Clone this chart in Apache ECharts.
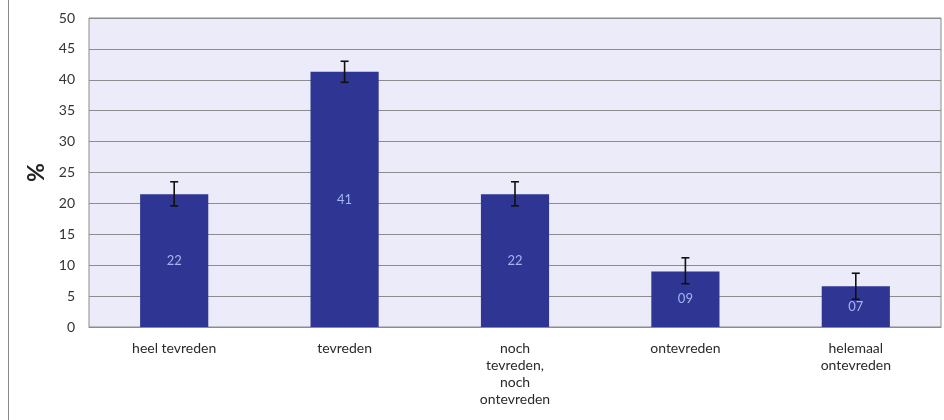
<!DOCTYPE html>
<html><head><meta charset="utf-8">
<script src="https://cdn.jsdelivr.net/npm/echarts@6/dist/echarts.min.js"></script>
<style>html,body{margin:0;padding:0;background:#fff}#c{width:944px;height:420px}</style>
</head><body><div id="c"></div>
<script>
const categories = ['heel tevreden', 'tevreden', 'noch\ntevreden,\nnoch\nontevreden', 'ontevreden', 'helemaal\nontevreden'];
const values = [21.5, 41.3, 21.5, 9.0, 6.6];
const valueLabels = ['22', '41', '22', '09', '07'];
const errLow = [19.6, 39.6, 19.6, 7.0, 4.5];
const errHigh = [23.5, 43.0, 23.5, 11.2, 8.7];
const yTicks = [0, 5, 10, 15, 20, 25, 30, 35, 40, 45, 50];

const font = 'Lato, "Open Sans", sans-serif';
const chart = echarts.init(document.getElementById('c'), null, {renderer: 'canvas'});
chart.setOption({
  animation: false,
  backgroundColor: '#fff',
  graphic: [{
    type: 'line', shape: {x1: 8.5, y1: 0, x2: 8.5, y2: 420},
    style: {stroke: '#8a8a8a', lineWidth: 1}
  }],
  grid: {left: 89, right: 3, top: 18, bottom: 93, show: true, backgroundColor: '#ebebfa', borderColor: '#8c8c8c', borderWidth: 1},
  xAxis: {
    type: 'category', data: categories,
    axisLine: {show: true, lineStyle: {color: '#8c8c8c'}},
    axisTick: {show: false},
    axisLabel: {color: '#2a2a2a', fontFamily: font, fontSize: 14, lineHeight: 17, margin: 13, interval: 0}
  },
  yAxis: {
    type: 'value', min: 0, max: 50, interval: 5,
    name: '%', nameLocation: 'middle', nameGap: 35, nameRotate: 90,
    nameTextStyle: {fontFamily: font, fontSize: 23, fontWeight: 'bold', color: '#222'},
    axisLine: {show: false}, axisTick: {show: false},
    axisLabel: {color: '#333', fontFamily: font, fontSize: 14, margin: 14,
      formatter: v => yTicks.includes(v) ? String(v) : ''},
    splitLine: {lineStyle: {color: '#8c8c8c', width: 1}}
  },
  series: [{
    type: 'bar', data: values, barWidth: '40%',
    itemStyle: {color: '#2e3592'},
    label: {show: true, position: 'inside', color: '#a3b6f0', fontFamily: font, fontSize: 13,
      formatter: p => valueLabels[p.dataIndex]}
  }, {
    type: 'custom',
    data: categories.map((c, i) => [i, errLow[i], errHigh[i]]),
    renderItem: (params, api) => {
      const lo = api.coord([api.value(0), api.value(1)]);
      const hi = api.coord([api.value(0), api.value(2)]);
      const w = 4;
      const st = {stroke: '#111', lineWidth: 1.6};
      return {type: 'group', children: [
        {type: 'line', shape: {x1: hi[0], y1: hi[1], x2: lo[0], y2: lo[1]}, style: st},
        {type: 'line', shape: {x1: hi[0]-w, y1: hi[1], x2: hi[0]+w, y2: hi[1]}, style: st},
        {type: 'line', shape: {x1: lo[0]-w, y1: lo[1], x2: lo[0]+w, y2: lo[1]}, style: st}
      ]};
    },
    z: 10
  }]
});
</script></body></html>
